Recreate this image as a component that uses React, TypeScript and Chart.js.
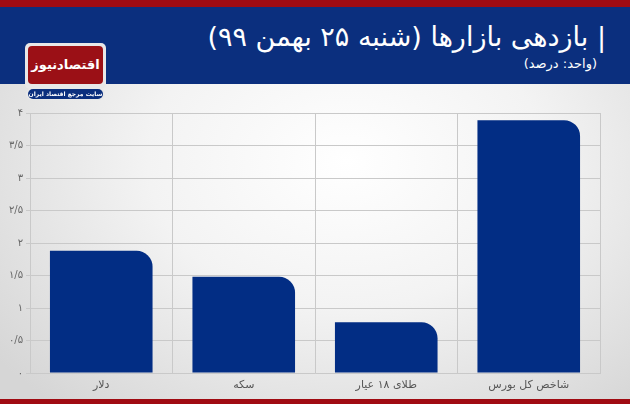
import React, { useEffect, useRef } from "react";
import { Chart, registerables } from "chart.js";

Chart.register(...registerables);

const categories = ["دلار", "سکه", "طلای ۱۸ عیار", "شاخص کل بورس"];
const returnsPct = [1.88, 1.48, 0.78, 3.89];
const yTicks = [0, 0.5, 1, 1.5, 2, 2.5, 3, 3.5, 4];

const FA = "۰۱۲۳۴۵۶۷۸۹";
const toFa = (v: number) =>
  String(v)
    .replace(".", "/")
    .replace(/[0-9]/g, (d) => FA[Number(d)]);

export default function App() {
  const ref = useRef<HTMLCanvasElement>(null);
  useEffect(() => {
    const ctx = ref.current!;
    const chart = new Chart(ctx, {
      type: "bar",
      data: {
        labels: categories,
        datasets: [
          {
            data: returnsPct,
            backgroundColor: "#022d84",
            borderRadius: { topLeft: 0, topRight: 16, bottomLeft: 0, bottomRight: 0 },
            borderSkipped: false,
            categoryPercentage: 0.72,
            barPercentage: 1,
          },
        ],
      },
      options: {
        animation: false,
        responsive: false,
        maintainAspectRatio: false,
        layout: { padding: { top: 13, right: 30, left: 0, bottom: 0 } },
        plugins: { legend: { display: false }, tooltip: { enabled: false }, title: { display: false } },
        scales: {
          x: {
            grid: { color: "#c9c9c9", lineWidth: 1, offset: true, tickLength: 0, drawTicks: false },
            border: { color: "#c9c9c9" },
            ticks: { color: "#555", font: { family: "DejaVu Sans", size: 11 }, padding: 6 },
            afterFit: (s: any) => {
              s.height = 27;
            },
          },
          y: {
            min: 0,
            max: 4,
            afterBuildTicks: (s: any) => {
              s.ticks = yTicks.map((v) => ({ value: v }));
            },
            grid: { color: "#c9c9c9", lineWidth: 1, tickLength: 4 },
            border: { color: "#c9c9c9" },
            ticks: {
              color: "#666",
              font: { family: "DejaVu Sans", size: 10 },
              padding: 3,
              callback: (v: any) => toFa(Number(v)),
            },
            afterFit: (s: any) => {
              s.width = 30;
            },
          },
        },
      },
    });
    return () => chart.destroy();
  }, []);

  return (
    <div
      style={{
        position: "fixed",
        left: 0,
        top: 0,
        width: 630,
        height: 404,
        overflow: "hidden",
        background:
          "radial-gradient(ellipse 70% 80% at 55% 40%, #ffffff 0%, #f3f3f3 45%, #d6d6d6 100%)",
        fontFamily: "DejaVu Sans",
      }}
    >
      <div style={{ position: "absolute", left: 0, top: 0, width: 630, height: 7, background: "#a00b12" }} />
      <div style={{ position: "absolute", left: 0, top: 7, width: 630, height: 77, background: "#0b2f7e" }} />
      <div
        dir="rtl"
        style={{
          position: "absolute",
          right: 24,
          top: 21,
          color: "#fff",
          fontSize: 27,
          lineHeight: "32px",
          whiteSpace: "nowrap",
          fontFamily: "DejaVu Sans",
        }}
      >
        | بازدهی بازارها (شنبه ۲۵ بهمن ۹۹)
      </div>
      <div
        dir="rtl"
        style={{
          position: "absolute",
          right: 33,
          top: 56,
          color: "#fff",
          fontSize: 13,
          lineHeight: "16px",
          whiteSpace: "nowrap",
        }}
      >
        (واحد: درصد)
      </div>
      <div
        style={{
          position: "absolute",
          left: 25,
          top: 43,
          width: 81,
          height: 46,
          background: "#e8e8e8",
          borderRadius: 5,
        }}
      />
      <div
        dir="rtl"
        style={{
          position: "absolute",
          left: 28,
          top: 46,
          width: 75,
          height: 38,
          background: "#9b1016",
          borderRadius: 4,
          color: "#fff",
          fontSize: 13,
          fontWeight: "bold",
          textAlign: "center",
          lineHeight: "38px",
          whiteSpace: "nowrap",
          overflow: "hidden",
        }}
      >
        اقتصادنیوز
      </div>
      <div
        style={{
          position: "absolute",
          left: 26,
          top: 88,
          width: 79,
          height: 12,
          background: "#e8e8e8",
          borderRadius: 6,
        }}
      />
      <div
        dir="rtl"
        style={{
          position: "absolute",
          left: 28,
          top: 89,
          width: 75,
          height: 10,
          background: "#0b2f7e",
          borderRadius: 5,
          color: "#fff",
          fontSize: 6,
          fontWeight: "bold",
          textAlign: "center",
          lineHeight: "10px",
          whiteSpace: "nowrap",
          overflow: "hidden",
        }}
      >
        سایت مرجع اقتصاد ایران
      </div>
      <canvas
        ref={ref}
        width={630}
        height={300}
        style={{ position: "absolute", left: 0, top: 100, width: 630, height: 300 }}
      />
      <div style={{ position: "absolute", left: 0, top: 399, width: 630, height: 5, background: "#a00b12" }} />
    </div>
  );
}
